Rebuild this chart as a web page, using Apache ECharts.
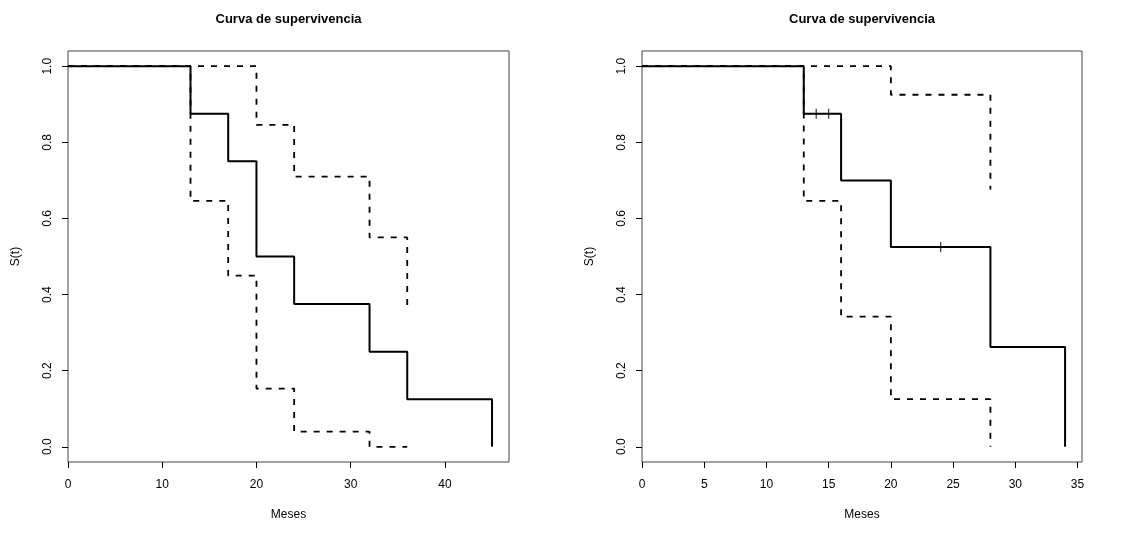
<!DOCTYPE html>
<html>
<head>
<meta charset="utf-8">
<title>Curva de supervivencia</title>
<script src="https://cdn.jsdelivr.net/npm/echarts@6/dist/echarts.min.js"></script>
<style>
  html, body { margin: 0; padding: 0; background: #fff; }
  #chart { width: 1126px; height: 544px; }
</style>
</head>
<body>
<div id="chart"></div>
<script>
// Kaplan-Meier estimates (solid) with confidence limits (dashed), two groups.

// Group A
const tiemposA = [0, 13, 17, 20, 24, 32, 36, 45];
const survA = [1, 0.875, 0.75, 0.5, 0.375, 0.25, 0.125, 0];
const tiemposSupA = [0, 20, 24, 32, 36];
const survSupA = [1, 0.846, 0.71, 0.55, 0.354];
const tiemposInfA = [0, 13, 17, 20, 24, 32, 36];
const survInfA = [1, 0.646, 0.45, 0.153, 0.04, 0, 0];

// Group B
const tiemposB = [0, 13, 16, 20, 28, 34];
const survB = [1, 0.875, 0.7, 0.525, 0.2625, 0];
const tiemposSupB = [0, 20, 28];
const survSupB = [1, 0.925, 0.676];
const tiemposInfB = [0, 13, 16, 20, 28];
const survInfB = [1, 0.646, 0.342, 0.125, 0];
const censuraTiemposB = [14, 15, 24];
const censuraSurvB = [0.875, 0.875, 0.525];

// Axis ticks
const xTicksA = [0, 10, 20, 30, 40];
const xTicksB = [0, 5, 10, 15, 20, 25, 30, 35];
const yTicks = [0, 0.2, 0.4, 0.6, 0.8, 1.0];

const titulo = 'Curva de supervivencia';
const xNombre = 'Meses';
const yNombre = 'S(t)';

const FONT = 'Liberation Sans, Arial, Helvetica, sans-serif';

function pares(xs, ys) { return xs.map((x, i) => [x, ys[i]]); }

function stepLine(idx, xs, ys, dashed) {
  return {
    type: 'line',
    xAxisIndex: idx,
    yAxisIndex: idx,
    data: pares(xs, ys),
    step: 'end',
    showSymbol: false,
    symbol: 'none',
    silent: true,
    animation: false,
    z: dashed ? 2 : 3,
    lineStyle: dashed
      ? { color: '#000', width: 1.8, type: [6, 7], cap: 'butt' }
      : { color: '#000', width: 2, cap: 'butt' }
  };
}

function xAxis(idx, max, ticks) {
  return {
    type: 'value', gridIndex: idx, min: 0, max: max, position: 'bottom',
    axisLine: { show: false, onZero: false },
    splitLine: { show: false },
    axisTick: { show: true, length: 6, lineStyle: { color: '#000', width: 1 }, customValues: ticks },
    axisLabel: { customValues: ticks, margin: 17, fontSize: 12, color: '#000', fontFamily: FONT },
    name: xNombre, nameLocation: 'middle', nameGap: 47,
    nameTextStyle: { fontSize: 12, color: '#000', fontFamily: FONT }
  };
}

function yAxis(idx) {
  return {
    type: 'value', gridIndex: idx, min: -0.04, max: 1.04, position: 'left',
    axisLine: { show: false, onZero: false },
    splitLine: { show: false },
    axisTick: { show: true, length: 6, lineStyle: { color: '#000', width: 1 }, customValues: yTicks },
    axisLabel: {
      customValues: yTicks, margin: 14, rotate: 90, fontSize: 12, color: '#000', fontFamily: FONT,
      formatter: v => Number(v).toFixed(1)
    },
    name: yNombre, nameLocation: 'middle', nameGap: 46, nameRotate: 90,
    nameTextStyle: { fontSize: 12, color: '#000', fontFamily: FONT }
  };
}

const grids = [
  { left: 68, top: 51, width: 441, height: 411 },
  { left: 642, top: 51, width: 440, height: 411 }
].map(g => Object.assign({ show: true, borderColor: '#444', borderWidth: 1, backgroundColor: 'transparent' }, g));

const chart = echarts.init(document.getElementById('chart'), null, { renderer: 'canvas' });

chart.setOption({
  backgroundColor: '#fff',
  animation: false,
  grid: grids,
  xAxis: [xAxis(0, 45 * 1.04, xTicksA), xAxis(1, 34 * 1.04, xTicksB)],
  yAxis: [yAxis(0), yAxis(1)],
  graphic: [
    { type: 'text', x: 288.5, y: 19, style: { text: titulo, textAlign: 'center', textVerticalAlign: 'middle', font: 'bold 13px ' + FONT, fill: '#000' } },
    { type: 'text', x: 862, y: 19, style: { text: titulo, textAlign: 'center', textVerticalAlign: 'middle', font: 'bold 13px ' + FONT, fill: '#000' } }
  ],
  series: [
    stepLine(0, tiemposSupA, survSupA, true),
    stepLine(0, tiemposInfA, survInfA, true),
    stepLine(0, tiemposA, survA, false),
    stepLine(1, tiemposSupB, survSupB, true),
    stepLine(1, tiemposInfB, survInfB, true),
    stepLine(1, tiemposB, survB, false),
    {
      type: 'scatter', xAxisIndex: 1, yAxisIndex: 1,
      data: pares(censuraTiemposB, censuraSurvB),
      symbol: 'rect', symbolSize: [1.2, 10],
      itemStyle: { color: '#000' },
      silent: true, animation: false, z: 4
    }
  ]
});
</script>
</body>
</html>
